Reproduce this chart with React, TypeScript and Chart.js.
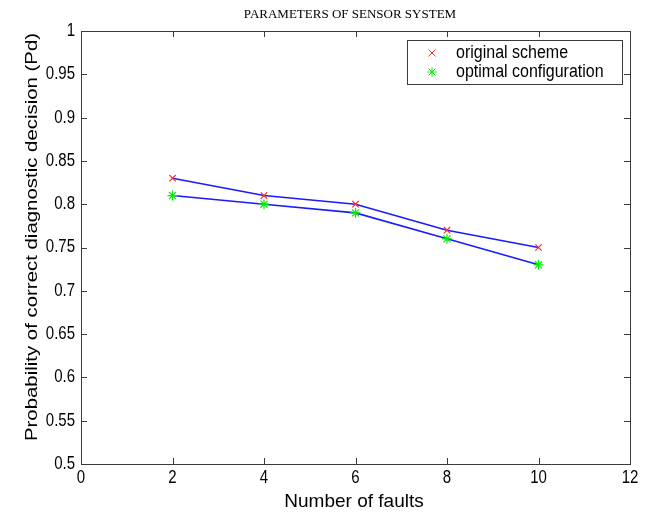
import React, { useEffect, useRef } from "react";
import { Chart, registerables } from "chart.js";

Chart.register(...registerables);

const faults = [2, 4, 6, 8, 10];
const originalScheme = [0.83, 0.81, 0.8, 0.77, 0.75];
const optimalConfiguration = [0.81, 0.8, 0.79, 0.76, 0.73];
const xTickValues = [0, 2, 4, 6, 8, 10, 12];
const xTickLabels = ["0", "2", "4", "6", "8", "10", "12"];
const yTickValues = [0.5, 0.55, 0.6, 0.65, 0.7, 0.75, 0.8, 0.85, 0.9, 0.95, 1];
const yTickLabels = ["0.5", "0.55", "0.6", "0.65", "0.7", "0.75", "0.8", "0.85", "0.9", "0.95", "1"];
const chartTitle = "PARAMETERS OF SENSOR SYSTEM";
const xTitle = "Number of faults";
const yTitle = "Probability of correct diagnostic decision (Pd)";
const legendLabels = ["original scheme", "optimal configuration"];

const SANS = '"Liberation Sans", Arial, sans-serif';
const SERIF = '"Liberation Serif", "Times New Roman", serif';
const SY = 1.2;

function text(
  ctx: CanvasRenderingContext2D,
  s: string,
  x: number,
  y: number,
  font: string,
  align: CanvasTextAlign,
  sy: number,
  rot = 0
) {
  ctx.save();
  ctx.translate(x, y);
  if (rot) ctx.rotate(rot);
  if (rot) ctx.scale(sy, 1);
  else ctx.scale(1, sy);
  ctx.font = font;
  ctx.textAlign = align;
  ctx.textBaseline = "middle";
  ctx.fillStyle = "#000";
  ctx.fillText(s, 0, 0);
  ctx.restore();
}

function drawCross(ctx: CanvasRenderingContext2D, x: number, y: number, r: number, color: string) {
  ctx.save();
  ctx.strokeStyle = color;
  ctx.lineWidth = 1;
  ctx.beginPath();
  ctx.moveTo(x - r, y - r);
  ctx.lineTo(x + r, y + r);
  ctx.moveTo(x - r, y + r);
  ctx.lineTo(x + r, y - r);
  ctx.stroke();
  ctx.restore();
}

function drawStar(ctx: CanvasRenderingContext2D, x: number, y: number, r: number, color: string) {
  ctx.save();
  ctx.strokeStyle = color;
  ctx.lineWidth = 1;
  ctx.beginPath();
  const d = r * 0.7071;
  ctx.moveTo(x - r, y);
  ctx.lineTo(x + r, y);
  ctx.moveTo(x, y - r);
  ctx.lineTo(x, y + r);
  ctx.moveTo(x - d, y - d);
  ctx.lineTo(x + d, y + d);
  ctx.moveTo(x - d, y + d);
  ctx.lineTo(x + d, y - d);
  ctx.stroke();
  ctx.restore();
}

const decorPlugin = {
  id: "decor",
  afterDraw(chart: any) {
    const ctx: CanvasRenderingContext2D = chart.ctx;
    const xs = chart.scales.x;
    const ys = chart.scales.y;
    const { left, right, top, bottom } = chart.chartArea;
    ctx.save();
    // frame
    ctx.strokeStyle = "#3a3a3a";
    ctx.lineWidth = 1;
    ctx.strokeRect(Math.round(left) + 0.5, Math.round(top) + 0.5, Math.round(right - left), Math.round(bottom - top));
    // inward ticks
    const tl = 6;
    ctx.beginPath();
    xTickValues.forEach((v) => {
      const px = Math.round(xs.getPixelForValue(v)) + 0.5;
      ctx.moveTo(px, bottom);
      ctx.lineTo(px, bottom - tl);
      ctx.moveTo(px, top);
      ctx.lineTo(px, top + tl);
    });
    yTickValues.forEach((v) => {
      const py = Math.round(ys.getPixelForValue(v)) + 0.5;
      ctx.moveTo(left, py);
      ctx.lineTo(left + tl, py);
      ctx.moveTo(right, py);
      ctx.lineTo(right - tl, py);
    });
    ctx.stroke();
    // tick labels
    xTickValues.forEach((v, i) => {
      text(ctx, xTickLabels[i], xs.getPixelForValue(v), bottom + 14, `15px ${SANS}`, "center", SY);
    });
    yTickValues.forEach((v, i) => {
      text(ctx, yTickLabels[i], left - 6, ys.getPixelForValue(v), `15px ${SANS}`, "right", SY);
    });
    // titles
    text(ctx, chartTitle, 350, 15, `13px ${SERIF}`, "center", 1.0);
    text(ctx, xTitle, 354, 502, `19px ${SANS}`, "center", 1.0);
    text(ctx, yTitle, 32, 237, `17px ${SANS}`, "center", 1.2, -Math.PI / 2);
    // legend
    const lx = 407, ly = 40, lw = 215, lh = 44;
    ctx.fillStyle = "#fff";
    ctx.fillRect(lx, ly, lw, lh);
    ctx.strokeStyle = "#3a3a3a";
    ctx.strokeRect(lx + 0.5, ly + 0.5, lw, lh);
    drawCross(ctx, 432, 53, 3.5, "#ff3030");
    drawStar(ctx, 432, 72, 4.5, "#00ee00");
    text(ctx, legendLabels[0], 456, 53, `16px ${SANS}`, "left", 1.15);
    text(ctx, legendLabels[1], 456, 72, `16px ${SANS}`, "left", 1.15);
    ctx.restore();
  },
};

export default function App() {
  const ref = useRef<HTMLCanvasElement | null>(null);
  useEffect(() => {
    document.body.style.margin = "0";
    const canvas = ref.current;
    if (!canvas) return;
    const chart = new Chart(canvas, {
      type: "line",
      data: {
        datasets: [
          {
            label: legendLabels[0],
            data: faults.map((f, i) => ({ x: f, y: originalScheme[i] })),
            borderColor: "#1a1aff",
            borderWidth: 1.6,
            pointStyle: "crossRot",
            pointRadius: 4.5,
            pointBorderColor: "#ff3030",
            pointBorderWidth: 1.2,
            pointBackgroundColor: "#ff3030",
            fill: false,
            tension: 0,
          },
          {
            label: legendLabels[1],
            data: faults.map((f, i) => ({ x: f, y: optimalConfiguration[i] })),
            borderColor: "#1a1aff",
            borderWidth: 1.6,
            pointStyle: "star",
            pointRadius: 5,
            pointBorderColor: "#00ee00",
            pointBorderWidth: 1.2,
            pointBackgroundColor: "#00ee00",
            fill: false,
            tension: 0,
          },
        ],
      },
      options: {
        responsive: false,
        animation: false,
        layout: { padding: { left: 81, top: 31, right: 16, bottom: 49 } },
        scales: {
          x: { type: "linear", min: 0, max: 12, display: false },
          y: { type: "linear", min: 0.5, max: 1, display: false },
        },
        plugins: {
          legend: { display: false },
          tooltip: { enabled: false },
          title: { display: false },
        },
      },
      plugins: [decorPlugin],
    });
    return () => chart.destroy();
  }, []);
  return <canvas ref={ref} width={646} height={513} style={{ display: "block" }} />;
}
